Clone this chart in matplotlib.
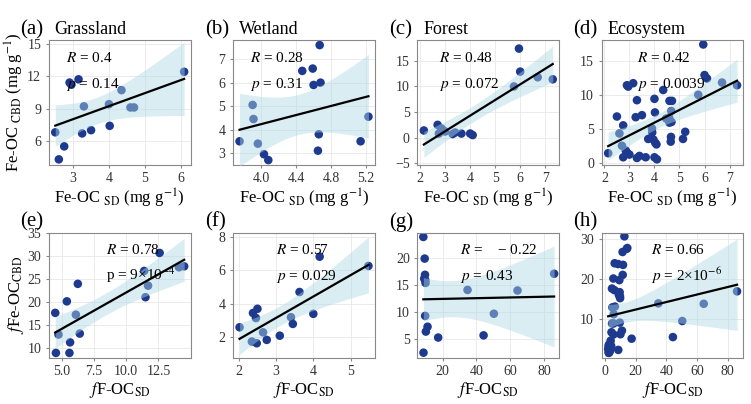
import numpy as np
import matplotlib
matplotlib.use("Agg")
import matplotlib.pyplot as plt

plt.rcParams["font.family"] = "Liberation Serif"
plt.rcParams["mathtext.fontset"] = "stix"

# ── Data ─────────────────────────────────────────────────────────────────────
grass_x = [2.5, 2.6, 2.75, 2.9, 2.95, 3.15, 3.25, 3.3, 3.5, 4.0, 4.02, 4.35, 4.6, 4.7, 6.1]
grass_y = [6.8, 4.3, 5.5, 11.4, 11.2, 11.7, 6.7, 9.2, 7.0, 9.4, 7.4, 10.7, 9.1, 9.1, 12.4]
wet_x = [3.75, 3.9, 3.91, 3.96, 4.03, 4.08, 4.47, 4.59, 4.6, 4.65, 4.66, 4.67, 4.68, 5.14, 5.23]
wet_y = [3.5, 5.05, 4.45, 3.4, 2.95, 2.7, 6.5, 6.6, 5.9, 3.1, 3.8, 7.6, 6.0, 3.5, 4.55]
forest_x = [2.15, 2.7, 2.75, 2.85, 2.9, 3.0, 3.3, 3.4, 3.65, 4.0, 4.1, 5.75, 5.95, 6.0, 6.7, 7.3]
forest_y = [1.4, 2.5, 0.8, 1.8, 1.5, 1.2, 0.7, 1.0, 0.8, 0.8, 0.5, 10.0, 17.4, 12.9, 11.8, 11.4]

fgrass_x = [4.5, 4.55, 4.75, 5.4, 5.6, 5.65, 6.1, 6.25, 6.4, 11.4, 11.5, 11.7, 12.6, 14.1, 14.5]
fgrass_y = [17.7, 9.0, 13.0, 20.2, 9.0, 11.3, 17.3, 24.0, 13.2, 26.8, 21.1, 23.6, 30.7, 27.6, 27.8]
fwet_x = [2.02, 2.35, 2.38, 2.46, 2.48, 2.5, 2.65, 2.75, 3.1, 3.4, 3.45, 3.63, 4.0, 4.17, 5.48]
fwet_y = [2.6, 1.75, 3.45, 3.15, 1.65, 3.7, 2.3, 1.85, 2.1, 3.2, 2.8, 4.7, 3.4, 6.8, 6.25]
fforest_x = [8.5, 9.0, 9.3, 9.5, 9.7, 9.8, 9.6, 10.0, 11.0, 8.6, 17.3, 34.7, 44.2, 50.3, 64.3, 86.0]
fforest_y = [23.8, 16.1, 19.8, 16.8, 15.8, 15.3, 9.2, 6.3, 7.2, 2.4, 5.2, 14.0, 5.6, 9.6, 13.9, 17.0]

eco_x = grass_x + wet_x + forest_x
eco_y = grass_y + wet_y + forest_y
feco_x = fgrass_x + fwet_x + fforest_x
feco_y = fgrass_y + fwet_y + fforest_y

panels = [
    ("(a)", "Grassland", grass_x, grass_y, ["$R$ = 0.4", "$p$ = 0.14"]),
    ("(b)", "Wetland", wet_x, wet_y, ["$R$ = 0.28", "$p$ = 0.31"]),
    ("(c)", "Forest", forest_x, forest_y, ["$R$ = 0.48", "$p$ = 0.072"]),
    ("(d)", "Ecosystem", eco_x, eco_y, ["$R$ = 0.42", "$p$ = 0.0039"]),
    ("(e)", "", fgrass_x, fgrass_y, ["$R$ = 0.78", "p = 9×10$^{-4}$"]),
    ("(f)", "", fwet_x, fwet_y, ["$R$ = 0.57", "$p$ = 0.029"]),
    ("(g)", "", fforest_x, fforest_y, ["$R$ =    − 0.22", "$p$ = 0.43"]),
    ("(h)", "", feco_x, feco_y, ["$R$ = 0.66", "$p$ = 2×10$^{-6}$"]),
]
text_x = [0.12, 0.12, 0.15, 0.25, 0.4, 0.3, 0.3, 0.35]
ylims = [(3.8, 15.3), (2.5, 7.8), (-5.3, 19), (-0.3, 18),
         (8, 35), (0.8, 8.2), (1.5, 24.5), (0.5, 31.5)]
yticks = [[6, 9, 12, 15], [3, 4, 5, 6, 7], [-5, 0, 5, 10, 15], [0, 5, 10, 15],
          [10, 15, 20, 25, 30, 35], [2, 4, 6, 8], [5, 10, 15, 20], [10, 20, 30]]
xticks = [[3, 4, 5, 6], [4.0, 4.4, 4.8, 5.2], [2, 3, 4, 5, 6, 7], [2, 3, 4, 5, 6, 7],
          [5.0, 7.5, 10.0, 12.5], [2, 3, 4, 5], [20, 40, 60, 80], [0, 20, 40, 60, 80]]

fig, axes = plt.subplots(2, 4, figsize=(7.51, 4.04), dpi=100)
fig.subplots_adjust(left=0.065, right=0.99, top=0.9, bottom=0.115, wspace=0.3, hspace=0.55)

for i, (ax, (lab, name, x, y, txt)) in enumerate(zip(axes.flat, panels)):
    x = np.array(x); y = np.array(y)
    ax.scatter(x, y, s=38, color="#1d3a8f", zorder=2, edgecolors="none")
    # linear fit + 95% confidence band
    n = len(x)
    b, a = np.polyfit(x, y, 1)
    xs = np.linspace(x.min(), x.max(), 100)
    resid = y - (a + b * x)
    s = np.sqrt(np.sum(resid ** 2) / (n - 2))
    t = 1.96 + 2.5 / (n - 2)
    se = s * np.sqrt(1 / n + (xs - x.mean()) ** 2 / np.sum((x - x.mean()) ** 2))
    ax.fill_between(xs, a + b * xs - t * se, a + b * xs + t * se,
                    color="#add8e6", alpha=0.45, lw=0, zorder=3)
    ax.plot(xs, a + b * xs, color="black", lw=1.6, zorder=4)

    ax.set_ylim(*ylims[i]); ax.set_yticks(yticks[i]); ax.set_xticks(xticks[i])
    ax.grid(color="#e8e8e8", lw=0.6, zorder=0)
    ax.set_axisbelow(True)
    for sp in ax.spines.values():
        sp.set_color("#888888")
    ax.tick_params(labelsize=10, colors="#333333", length=2, color="#888888")
    ax.text(text_x[i], 0.83, txt[0], transform=ax.transAxes, fontsize=11, zorder=5)
    ax.text(text_x[i], 0.62, txt[1], transform=ax.transAxes, fontsize=11, zorder=5)
    ax.text(-0.2, 1.05, lab, transform=ax.transAxes, fontsize=15)
    ax.text(0.04, 1.05, name, transform=ax.transAxes, fontsize=13)
    if i < 4:
        ax.set_xlabel("Fe-OC $_{\\rm SD}$ (mg g$^{-1}$)", fontsize=12, labelpad=1)
    else:
        ax.set_xlabel("$f$F-OC$_{\\rm SD}$", fontsize=12, labelpad=1)

axes[0, 0].set_ylabel("Fe-OC $_{\\rm CBD}$ (mg g$^{-1}$)", fontsize=12, labelpad=1)
axes[1, 0].set_ylabel("$f$Fe-OC$_{\\rm CBD}$", fontsize=12, labelpad=1)
axes[1, 2].set_xlim(5, 89)

plt.savefig("out.png", dpi=100)
